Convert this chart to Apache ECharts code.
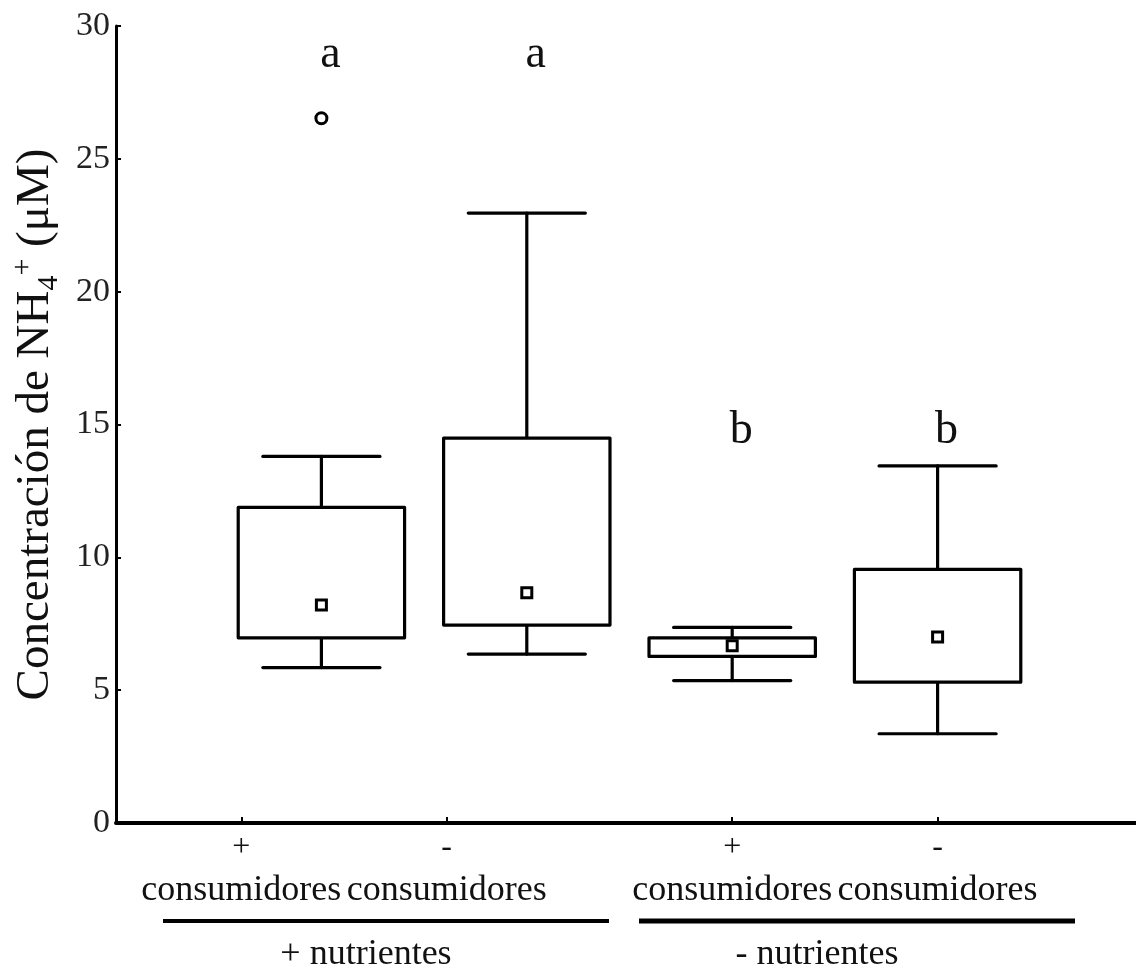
<!DOCTYPE html>
<html>
<head>
<meta charset="utf-8">
<script src="https://cdn.jsdelivr.net/npm/echarts@6/dist/echarts.min.js"></script>
<style>
  html, body { margin: 0; padding: 0; background: #fff; }
  #chart { width: 1136px; height: 971px; }
</style>
</head>
<body>
<div id="chart"></div>
<script>
// Treatment groups (box positions 1..4 on the x axis)
const consumerSigns = ['+', '-', '+', '-'];
const consumerWord = 'consumidores';
const nutrientGroups = ['+ nutrientes', '- nutrientes'];

// NH4+ concentration (µM) per treatment
const whiskerLow  = [5.85, 6.36, 5.36, 3.36];
const boxLow      = [6.97, 7.45, 6.27, 5.30];
const boxHigh     = [11.88, 14.49, 6.97, 9.55];
const whiskerHigh = [13.80, 22.96, 7.36, 13.44];
const centerMark  = [8.21, 8.67, 6.67, 7.00];
const outlierGroup = [1];
const outlierValue = [26.53];

// Significance letters and the level they are written at
const sigLetters = ['a', 'a', 'b', 'b'];
const sigLevel   = [28.9, 28.9, 14.75, 14.75];

// y axis ticks
const yTicks = [0, 5, 10, 15, 20, 25, 30];

const SERIF = '"Liberation Serif", "Times New Roman", serif';
const groupPos = consumerSigns.map((_, i) => i + 1);
// x positions of the category ticks/labels under the axis
const labelPos = [0.61, 1.61, 3, 4];

const boxData = groupPos.map((x, i) => [x, whiskerLow[i], boxLow[i], boxHigh[i], whiskerHigh[i]]);
const meanData = groupPos.map((x, i) => [x, centerMark[i]]);
const outlierData = outlierGroup.map((g, i) => [g, outlierValue[i]]);
const letterData = groupPos.map((x, i) => ({ value: [x, sigLevel[i]], letter: sigLetters[i] }));

function renderBox(params, api) {
  const x = api.value(0);
  const pLo = api.coord([x, api.value(1)]);
  const pQ1 = api.coord([x, api.value(2)]);
  const pQ3 = api.coord([x, api.value(3)]);
  const pHi = api.coord([x, api.value(4)]);
  const boxW = api.size([0.81, 0])[0];
  const capW = api.size([0.57, 0])[0];
  const stroke = { stroke: '#000', lineWidth: 3.2, lineCap: 'round' };
  const cx = pQ1[0];
  return {
    type: 'group',
    children: [
      { type: 'line', shape: { x1: cx, y1: pQ3[1], x2: cx, y2: pHi[1] }, style: stroke },
      { type: 'line', shape: { x1: cx - capW / 2, y1: pHi[1], x2: cx + capW / 2, y2: pHi[1] }, style: stroke },
      { type: 'line', shape: { x1: cx, y1: pQ1[1], x2: cx, y2: pLo[1] }, style: stroke },
      { type: 'line', shape: { x1: cx - capW / 2, y1: pLo[1], x2: cx + capW / 2, y2: pLo[1] }, style: stroke },
      {
        type: 'rect',
        shape: { x: cx - boxW / 2, y: pQ3[1], width: boxW, height: pQ1[1] - pQ3[1] },
        style: { fill: '#fff', stroke: '#000', lineWidth: 3.2, lineJoin: 'round' }
      }
    ]
  };
}

// significance letters drawn as text at data coordinates
function renderLetter(params, api) {
  const p = api.coord([api.value(0), api.value(1)]);
  return {
    type: 'text',
    x: p[0] + 9,
    y: p[1],
    style: {
      text: sigLetters[params.dataIndex],
      fontSize: 46,
      fontFamily: SERIF,
      fill: '#111',
      textAlign: 'center',
      textVerticalAlign: 'middle'
    }
  };
}

const chart = echarts.init(document.getElementById('chart'), null, { renderer: 'canvas' });

chart.setOption({
  animation: false,
  backgroundColor: '#fff',
  grid: { left: 116, top: 26, width: 1027, height: 797, containLabel: false, outerBoundsMode: 'none' },
  xAxis: {
    type: 'value',
    min: 0,
    max: 5,
    splitLine: { show: false },
    axisLine: { show: true, onZero: false, lineStyle: { color: '#000', width: 4 } },
    axisTick: { show: true, inside: true, length: 6, customValues: labelPos, lineStyle: { color: '#000', width: 2 } },
    axisLabel: {
      show: true,
      customValues: labelPos,
      margin: 7,
      color: '#111',
      fontFamily: SERIF,
      formatter: function (value, index) {
        let i = labelPos.indexOf(value);
        if (i < 0) i = index;
        return '{sign|' + consumerSigns[i] + '}\n{word|' + consumerWord + '}';
      },
      rich: {
        sign: { fontSize: 32, lineHeight: 36, fontFamily: SERIF, color: '#111' },
        word: { fontSize: 36, lineHeight: 50, fontFamily: SERIF, color: '#111' }
      }
    }
  },
  yAxis: {
    type: 'value',
    min: 0,
    max: 30,
    interval: 5,
    splitLine: { show: false },
    axisLine: { show: true, lineStyle: { color: '#000', width: 3 } },
    axisTick: { show: true, inside: true, length: 5, lineStyle: { color: '#000', width: 2 } },
    axisLabel: {
      margin: 6,
      fontSize: 34,
      fontFamily: SERIF,
      color: '#222',
      customValues: yTicks
    },
    name: '{t|Concentración de NH}{sub|4}{sup|+}{t| (μM)}',
    nameLocation: 'middle',
    nameRotate: 90,
    nameGap: 52,
    nameTextStyle: {
      fontFamily: SERIF,
      color: '#111',
      rich: {
        t: { fontSize: 47, fontFamily: SERIF, color: '#111', lineHeight: 56, verticalAlign: 'middle' },
        sub: { fontSize: 30, fontFamily: SERIF, color: '#111', lineHeight: 56, verticalAlign: 'bottom' },
        sup: { fontSize: 30, fontFamily: SERIF, color: '#111', lineHeight: 56, verticalAlign: 'top' }
      }
    }
  },
  series: [
    {
      name: 'cajas',
      type: 'custom',
      renderItem: renderBox,
      data: boxData,
      encode: { x: 0, y: [1, 2, 3, 4] },
      z: 2
    },
    {
      name: 'centro',
      type: 'scatter',
      data: meanData,
      symbol: 'rect',
      symbolSize: 10,
      itemStyle: { color: '#fff', borderColor: '#000', borderWidth: 3, opacity: 1 },
      z: 5
    },
    {
      name: 'atípicos',
      type: 'scatter',
      data: outlierData,
      symbol: 'circle',
      symbolSize: 11,
      itemStyle: { color: '#fff', borderColor: '#000', borderWidth: 3, opacity: 1 },
      z: 5
    },
    {
      name: 'letras',
      type: 'custom',
      renderItem: renderLetter,
      data: letterData.map(d => d.value),
      encode: { x: 0, y: 1 },
      z: 6
    }
  ],
  graphic: [
    { type: 'line', shape: { x1: 163, y1: 921, x2: 609, y2: 921 }, style: { stroke: '#000', lineWidth: 4 } },
    { type: 'line', shape: { x1: 639, y1: 921, x2: 1075, y2: 921 }, style: { stroke: '#000', lineWidth: 5 } },
    {
      type: 'text', x: 366, y: 955,
      style: { text: nutrientGroups[0], fontSize: 36, fontFamily: SERIF, fill: '#111', textAlign: 'center', textVerticalAlign: 'middle' }
    },
    {
      type: 'text', x: 817, y: 955,
      style: { text: nutrientGroups[1], fontSize: 36, fontFamily: SERIF, fill: '#111', textAlign: 'center', textVerticalAlign: 'middle' }
    }
  ]
});
</script>
</body>
</html>
